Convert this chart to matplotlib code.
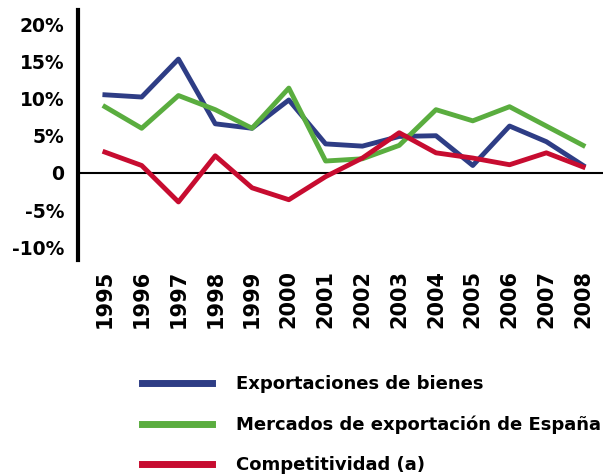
import matplotlib
matplotlib.use("Agg")
import matplotlib.pyplot as plt
from matplotlib.ticker import FuncFormatter

plt.rcParams['font.family'] = ['DejaVu Sans']
plt.rcParams['font.weight'] = 'bold'

years = [str(y) for y in range(1995, 2009)]
exportaciones = [10.5, 10.2, 15.3, 6.6, 6.0, 9.8, 3.9, 3.6, 4.9, 5.0, 1.0, 6.3, 4.2, 1.0]
mercados = [8.9, 6.0, 10.4, 8.5, 6.0, 11.4, 1.6, 1.9, 3.7, 8.5, 7.0, 8.9, 6.3, 3.7]
competitividad = [2.8, 1.0, -3.9, 2.3, -2.0, -3.6, -0.5, 2.0, 5.4, 2.7, 2.0, 1.1, 2.7, 0.8]

azul = '#2e3d85'
verde = '#5aad3f'
rojo = '#c70c30'

fig = plt.figure(figsize=(6.03, 4.74), dpi=100)
ax = fig.add_axes([0.1294, 0.4515, 0.8706, 0.5275])

x = range(len(years))
ax.plot(x, exportaciones, color=azul, lw=3.5, label='Exportaciones de bienes', zorder=3)
ax.plot(x, mercados, color=verde, lw=3.5, label='Mercados de exportación de España', zorder=3)
ax.plot(x, competitividad, color=rojo, lw=3.5, label='Competitividad (a)', zorder=4)
ax.axhline(0, color='black', lw=1.5, zorder=2)

ax.set_xlim(-0.73, 13.54)
ax.set_ylim(-11.7, 21.9)
ax.set_yticks([-10, -5, 0, 5, 10, 15, 20])
ax.yaxis.set_major_formatter(FuncFormatter(lambda v, p: '0' if v == 0 else f'{v:.0f}%'))
ax.set_xticks(list(x))
ax.set_xticklabels(years, rotation=90, fontsize=15)

for s in ['top', 'right', 'bottom']:
    ax.spines[s].set_visible(False)
ax.spines['left'].set_linewidth(3)
ax.tick_params(axis='both', length=0)
ax.tick_params(axis='y', pad=10, labelsize=13.5)
ax.tick_params(axis='x', pad=7)

fig.legend(loc='upper left', bbox_to_anchor=(0.2355, 0.208), frameon=False,
           fontsize=13, handlelength=3.9, handletextpad=1.33, labelspacing=1.22,
           borderaxespad=0, borderpad=0)
for h in fig.legends[0].get_lines():
    h.set_linewidth(5)

fig.savefig('out.png', dpi=100)
